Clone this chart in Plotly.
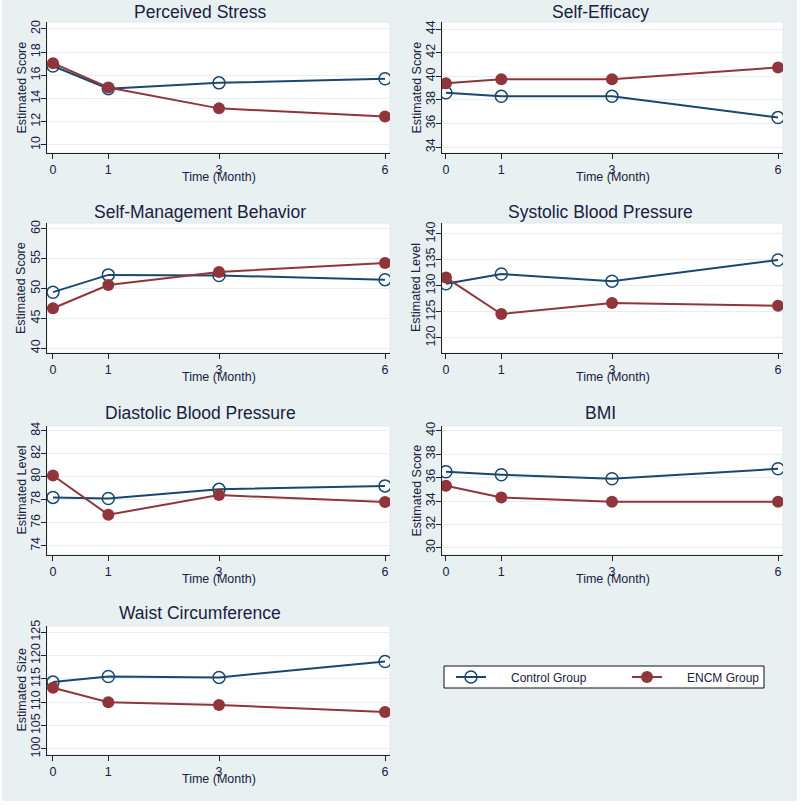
import plotly.graph_objects as go

months = [0, 1, 3, 6]
tick_labels = ["0", "1", "3", "6"]

titles = ["Perceived Stress", "Self-Efficacy", "Self-Management Behavior",
          "Systolic Blood Pressure", "Diastolic Blood Pressure", "BMI",
          "Waist Circumference"]
y_titles = ["Estimated Score", "Estimated Score", "Estimated Score",
            "Estimated Level", "Estimated Level", "Estimated Score",
            "Estimated Size"]

stress_control = [16.8, 14.85, 15.35, 15.7]
stress_encm = [17.05, 14.95, 13.15, 12.45]
efficacy_control = [38.6, 38.3, 38.3, 36.5]
efficacy_encm = [39.4, 39.75, 39.75, 40.75]
selfmgmt_control = [49.4, 52.3, 52.2, 51.5]
selfmgmt_encm = [46.7, 50.6, 52.8, 54.3]
systolic_control = [130.4, 132.3, 130.9, 135.0]
systolic_encm = [131.6, 124.6, 126.7, 126.2]
diastolic_control = [78.2, 78.1, 78.9, 79.2]
diastolic_encm = [80.1, 76.7, 78.4, 77.8]
bmi_control = [36.5, 36.25, 35.9, 36.75]
bmi_encm = [35.3, 34.3, 33.95, 33.95]
waist_control = [114.3, 115.5, 115.3, 118.7]
waist_encm = [113.1, 110.0, 109.4, 107.9]

control_series = [stress_control, efficacy_control, selfmgmt_control, systolic_control,
                  diastolic_control, bmi_control, waist_control]
encm_series = [stress_encm, efficacy_encm, selfmgmt_encm, systolic_encm,
               diastolic_encm, bmi_encm, waist_encm]

y_tick_values = [
    [10, 12, 14, 16, 18, 20],
    [34, 36, 38, 40, 42, 44],
    [40, 45, 50, 55, 60],
    [120, 125, 130, 135, 140],
    [74, 76, 78, 80, 82, 84],
    [30, 32, 34, 36, 38, 40],
    [100, 105, 110, 115, 120, 125],
]
y_ranges = [
    [9.3, 20.6], [33.5, 44.6], [39.2, 61.0], [117.1, 142.1],
    [73.2, 84.4], [29.4, 40.4], [98.7, 126.3],
]

W, H = 800, 805
NAVY = "#1a476f"
MAROON = "#90353b"
BG = "#e8f0f2"
GRID = "#e6eef1"
TXT = "#1a2040"
FONT = "Liberation Sans, Arial, sans-serif"
PAD = "\u00a0" * 6

col_px = [(47, 390), (442, 783)]
col_center = [200, 600]
col_xrange = [[-0.108, 6.09], [-0.072, 6.09]]
row_px = [(22, 153), (223, 353), (426, 555), (626, 755)]
title_y_px = [12, 212, 413, 613]

fig = go.Figure()
annotations = []

for i in range(7):
    r, c = divmod(i, 2)
    n = i + 1
    xa = "x" if n == 1 else f"x{n}"
    ya = "y" if n == 1 else f"y{n}"
    x0, x1 = col_px[c]
    ytop, ybot = row_px[r]
    xdom = [x0 / W, x1 / W]
    ydom = [1 - ybot / H, 1 - ytop / H]
    show = (i == 0)
    fig.add_trace(go.Scatter(
        x=months, y=control_series[i], mode="lines+markers", name=PAD + "Control Group",
        line=dict(color=NAVY, width=2),
        marker=dict(symbol="circle-open", size=12, color=NAVY, line=dict(width=1.5, color=NAVY)),
        xaxis=xa, yaxis=ya, showlegend=show, legendgroup="c"))
    fig.add_trace(go.Scatter(
        x=months, y=encm_series[i], mode="lines+markers", name=PAD + "ENCM Group",
        line=dict(color=MAROON, width=2),
        marker=dict(symbol="circle", size=12, color=MAROON),
        xaxis=xa, yaxis=ya, showlegend=show, legendgroup="e"))

    xkey = "xaxis" if n == 1 else f"xaxis{n}"
    ykey = "yaxis" if n == 1 else f"yaxis{n}"
    fig.update_layout({
        xkey: dict(domain=xdom, anchor=ya, range=col_xrange[c], tickmode="array",
                   tickvals=months, ticktext=tick_labels, ticks="outside", ticklen=5,
                   tickcolor="#222", showline=True, linecolor="#222", linewidth=1,
                   showgrid=False, zeroline=False, automargin=False,
                   tickfont=dict(family=FONT, size=12.5, color=TXT)),
        ykey: dict(domain=ydom, anchor=xa, range=y_ranges[i], tickmode="array",
                   tickvals=y_tick_values[i], ticks="outside", ticklen=5,
                   tickcolor="#222", showline=True, linecolor="#222", linewidth=1,
                   showgrid=True, gridcolor=GRID, gridwidth=1, zeroline=False,
                   tickangle=-90, automargin=False, ticklabelstandoff=-4,
                   tickfont=dict(family=FONT, size=12.5, color=TXT)),
    })
    annotations.append(dict(text=titles[i], x=col_center[c] / W, y=1 - title_y_px[r] / H,
                            xref="paper", yref="paper", showarrow=False,
                            xanchor="center", yanchor="middle",
                            font=dict(family=FONT, size=17.5, color=TXT)))
    annotations.append(dict(text="Time (Month)", x=(x0 + x1) / 2 / W,
                            y=1 - (ybot + 24) / H, xref="paper", yref="paper",
                            showarrow=False, xanchor="center", yanchor="middle",
                            font=dict(family=FONT, size=12.5, color=TXT)))
    annotations.append(dict(text=y_titles[i], x=(x0 - 26) / W,
                            y=1 - (ytop + ybot) / 2 / H, xref="paper", yref="paper",
                            showarrow=False, xanchor="center", yanchor="middle",
                            textangle=-90,
                            font=dict(family=FONT, size=12.5, color=TXT)))

shapes = [
    dict(type="rect", xref="paper", yref="paper", x0=2 / W, x1=797 / W,
         y0=1 - 801 / H, y1=1, fillcolor=BG, line=dict(width=0), layer="below"),
    dict(type="rect", xref="paper", yref="paper", x0=444 / W, x1=764 / W,
         y0=1 - 688 / H, y1=1 - 666 / H, fillcolor="white",
         line=dict(width=1, color="#111"), layer="below"),
]
for i in range(7):
    r, c = divmod(i, 2)
    x0, x1 = col_px[c]
    ytop, ybot = row_px[r]
    shapes.append(dict(type="rect", xref="paper", yref="paper", x0=x0 / W, x1=x1 / W,
                       y0=1 - ybot / H, y1=1 - ytop / H, fillcolor="white",
                       line=dict(width=1, color="#e0e8ea"), layer="below"))

fig.update_layout(
    width=W, height=H, margin=dict(l=0, r=0, t=0, b=0, autoexpand=False),
    paper_bgcolor="white", plot_bgcolor="rgba(0,0,0,0)",
    annotations=annotations, shapes=shapes,
    showlegend=True,
    legend=dict(orientation="h", x=451 / W, y=1 - 677 / H, xanchor="left", yanchor="middle",
                bgcolor="rgba(0,0,0,0)", borderwidth=0,
                entrywidth=131, entrywidthmode="pixels", tracegroupgap=0,
                font=dict(family=FONT, size=12, color=TXT)),
)

fig.write_html("out.html", config={"displayModeBar": False},
               post_script="document.body.style.margin='0px';")
